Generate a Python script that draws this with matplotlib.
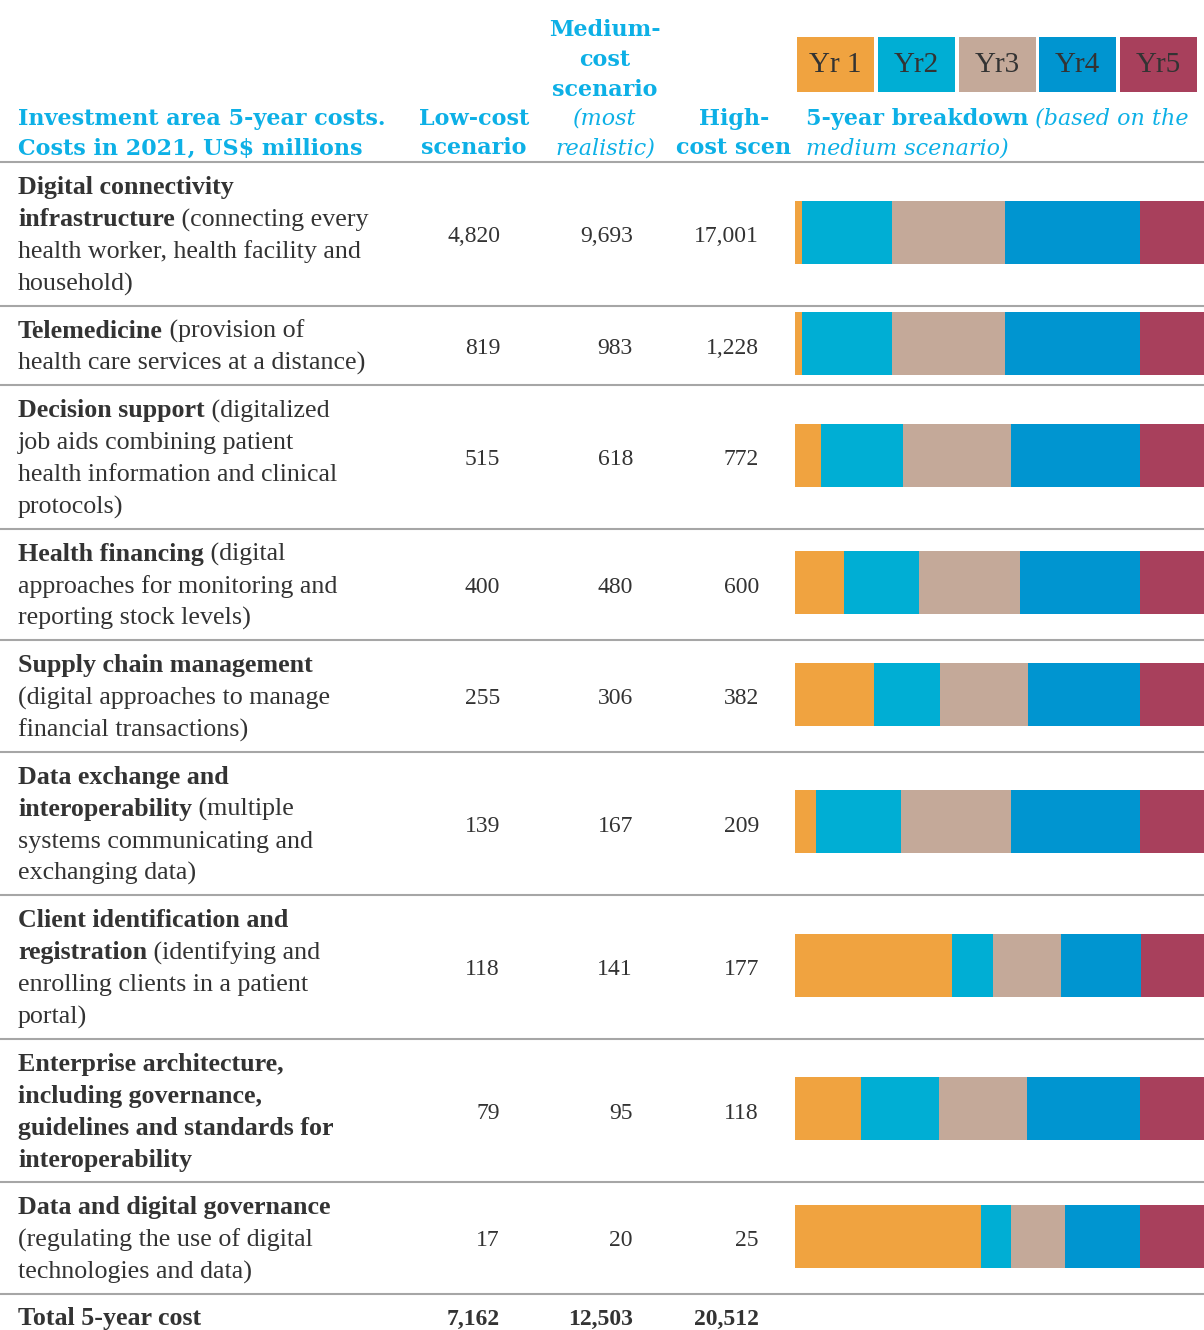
import numpy as np
import matplotlib
matplotlib.use("Agg")
import matplotlib.pyplot as plt
from matplotlib.patches import Rectangle

# ---- data ----
years = ["Yr 1", "Yr2", "Yr3", "Yr4", "Yr5"]
year_colors = ["#F0A340", "#00AED4", "#C4A999", "#0095D0", "#A8405C"]

# row descriptions: list of lines, each line a list of (text, bold) runs
areas = [
    [[("Digital connectivity", True)],
     [("infrastructure", True), (" (connecting every", False)],
     [("health worker, health facility and", False)],
     [("household)", False)]],
    [[("Telemedicine", True), (" (provision of", False)],
     [("health care services at a distance)", False)]],
    [[("Decision support", True), (" (digitalized", False)],
     [("job aids combining patient", False)],
     [("health information and clinical", False)],
     [("protocols)", False)]],
    [[("Health financing", True), (" (digital", False)],
     [("approaches for monitoring and", False)],
     [("reporting stock levels)", False)]],
    [[("Supply chain management", True)],
     [("(digital approaches to manage", False)],
     [("financial transactions)", False)]],
    [[("Data exchange and", True)],
     [("interoperability", True), (" (multiple", False)],
     [("systems communicating and", False)],
     [("exchanging data)", False)]],
    [[("Client identification and", True)],
     [("registration", True), (" (identifying and", False)],
     [("enrolling clients in a patient", False)],
     [("portal)", False)]],
    [[("Enterprise architecture,", True)],
     [("including governance,", True)],
     [("guidelines and standards for", True)],
     [("interoperability", True)]],
    [[("Data and digital governance", True)],
     [("(regulating the use of digital", False)],
     [("technologies and data)", False)]],
]

low = ["4,820", "819", "515", "400", "255", "139", "118", "79", "17"]
medium = ["9,693", "983", "618", "480", "306", "167", "141", "95", "20"]
high = ["17,001", "1,228", "772", "600", "382", "209", "177", "118", "25"]
totals = ["7,162", "12,503", "20,512"]

# yearly share of medium scenario (% of bar width)
yr1 = [1.7, 1.7, 6.4, 12.0, 19.3, 5.1, 38.4, 16.1, 45.5]
yr2 = [22.0, 22.0, 20.0, 18.3, 16.1, 20.8, 10.0, 19.1, 7.3]
yr3 = [27.6, 27.6, 26.4, 24.7, 21.5, 26.9, 16.6, 21.5, 13.2]
yr4 = [33.0, 33.0, 31.5, 29.3, 27.4, 31.5, 19.6, 27.6, 18.3]
yr5 = [15.7, 15.7, 15.7, 15.7, 15.7, 15.7, 15.4, 15.7, 15.7]

# ---- style ----
W, H = 1204, 1330
FONT = "Liberation Serif"
HFONT = "DejaVu Serif"
DARK = "#333333"
CYAN = "#0DB0E6"
GRID = "#A6A6A6"
LINE_H = 32
BODY = 18.7
NUM = 17
HDR = 16
plt.rcParams["font.family"] = FONT

fig = plt.figure(figsize=(W / 100, H / 100), dpi=100)
ax = fig.add_axes([0, 0, 1, 1])
ax.set_xlim(0, W)
ax.set_ylim(H, 0)
ax.axis("off")
fig.canvas.draw()
renderer = fig.canvas.get_renderer()
inv = ax.transData.inverted()


def runs(x, y, parts, size=BODY, color=DARK, italic_plain=False, family=FONT):
    for txt, bold in parts:
        t = ax.text(x, y, txt, fontsize=size, color=color, va="baseline", ha="left",
                    family=family, fontweight="bold" if bold else "normal",
                    fontstyle="italic" if (italic_plain and not bold) else "normal")
        bb = t.get_window_extent(renderer)
        x = inv.transform((bb.x1, bb.y0))[0]


def hline(y):
    ax.plot([0, W], [y, y], color=GRID, lw=1.5, solid_capstyle="butt")


# ---- header ----
hdr_base = 125
hstep = 29.5
runs(18, hdr_base, [("Investment area 5-year costs.", True)], size=HDR, color=CYAN,
     family=HFONT)
runs(18, hdr_base + hstep, [("Costs in 2021, US$ millions", True)], size=HDR, color=CYAN,
     family=HFONT)
for i, s in enumerate(["Low-cost", "scenario"]):
    ax.text(474, hdr_base + hstep * i, s, fontsize=HDR, fontweight="bold", color=CYAN,
            ha="center", va="baseline", family=HFONT)
med_lines = [("Medium-", "bold"), ("cost", "bold"), ("scenario", "bold"),
             ("(most", "italic"), ("realistic)", "italic")]
for i, (s, kind) in enumerate(med_lines):
    ax.text(605, hdr_base - hstep * (3 - i), s, fontsize=HDR, color=CYAN, ha="center",
            va="baseline", family=HFONT,
            fontweight="bold" if kind == "bold" else "normal",
            fontstyle="italic" if kind == "italic" else "normal")
for i, s in enumerate(["High-", "cost scen"]):
    ax.text(734, hdr_base + hstep * i, s, fontsize=HDR, fontweight="bold", color=CYAN,
            ha="center", va="baseline", family=HFONT)
runs(806, hdr_base, [("5-year breakdown", True), (" (based on the", False)],
     size=HDR, color=CYAN, italic_plain=True, family=HFONT)
runs(806, hdr_base + hstep, [("medium scenario)", False)], size=HDR, color=CYAN,
     italic_plain=True, family=HFONT)

# legend boxes
box_x = [797, 878, 959, 1039, 1120]
for bx, lab, col in zip(box_x, years, year_colors):
    ax.add_patch(Rectangle((bx, 37), 77, 55, color=col, lw=0))
    ax.text(bx + 38.5, 65, lab, fontsize=21, color=DARK, ha="center", va="center")

# ---- rows ----
top = 162
hline(top)
shares = np.array([yr1, yr2, yr3, yr4, yr5])
bar_x0, bar_w = 795, 409
for r, lines in enumerate(areas):
    n = len(lines)
    h = LINE_H * n + 15.5
    center = top + h / 2
    for i, parts in enumerate(lines):
        y = center + 8.5 + (i - (n - 1) / 2) * LINE_H
        runs(18, y, parts)
    for xr, vals in zip([500, 633, 759], [low, medium, high]):
        ax.text(xr, center + 8.5, vals[r], fontsize=NUM, color=DARK, ha="right",
                va="baseline")
    left = bar_x0
    for k in range(5):
        w = shares[k, r] / shares[:, r].sum() * bar_w
        ax.barh(center - 1.5, w, left=left, height=63, color=year_colors[k], lw=0)
        left += w
    top += h
    hline(top)

# totals
ty = top + 31
runs(18, ty, [("Total 5-year cost", True)])
for xr, v in zip([500, 633, 759], totals):
    ax.text(xr, ty, v, fontsize=NUM, fontweight="bold", color=DARK, ha="right",
            va="baseline")

fig.savefig("out.png", dpi=100)
